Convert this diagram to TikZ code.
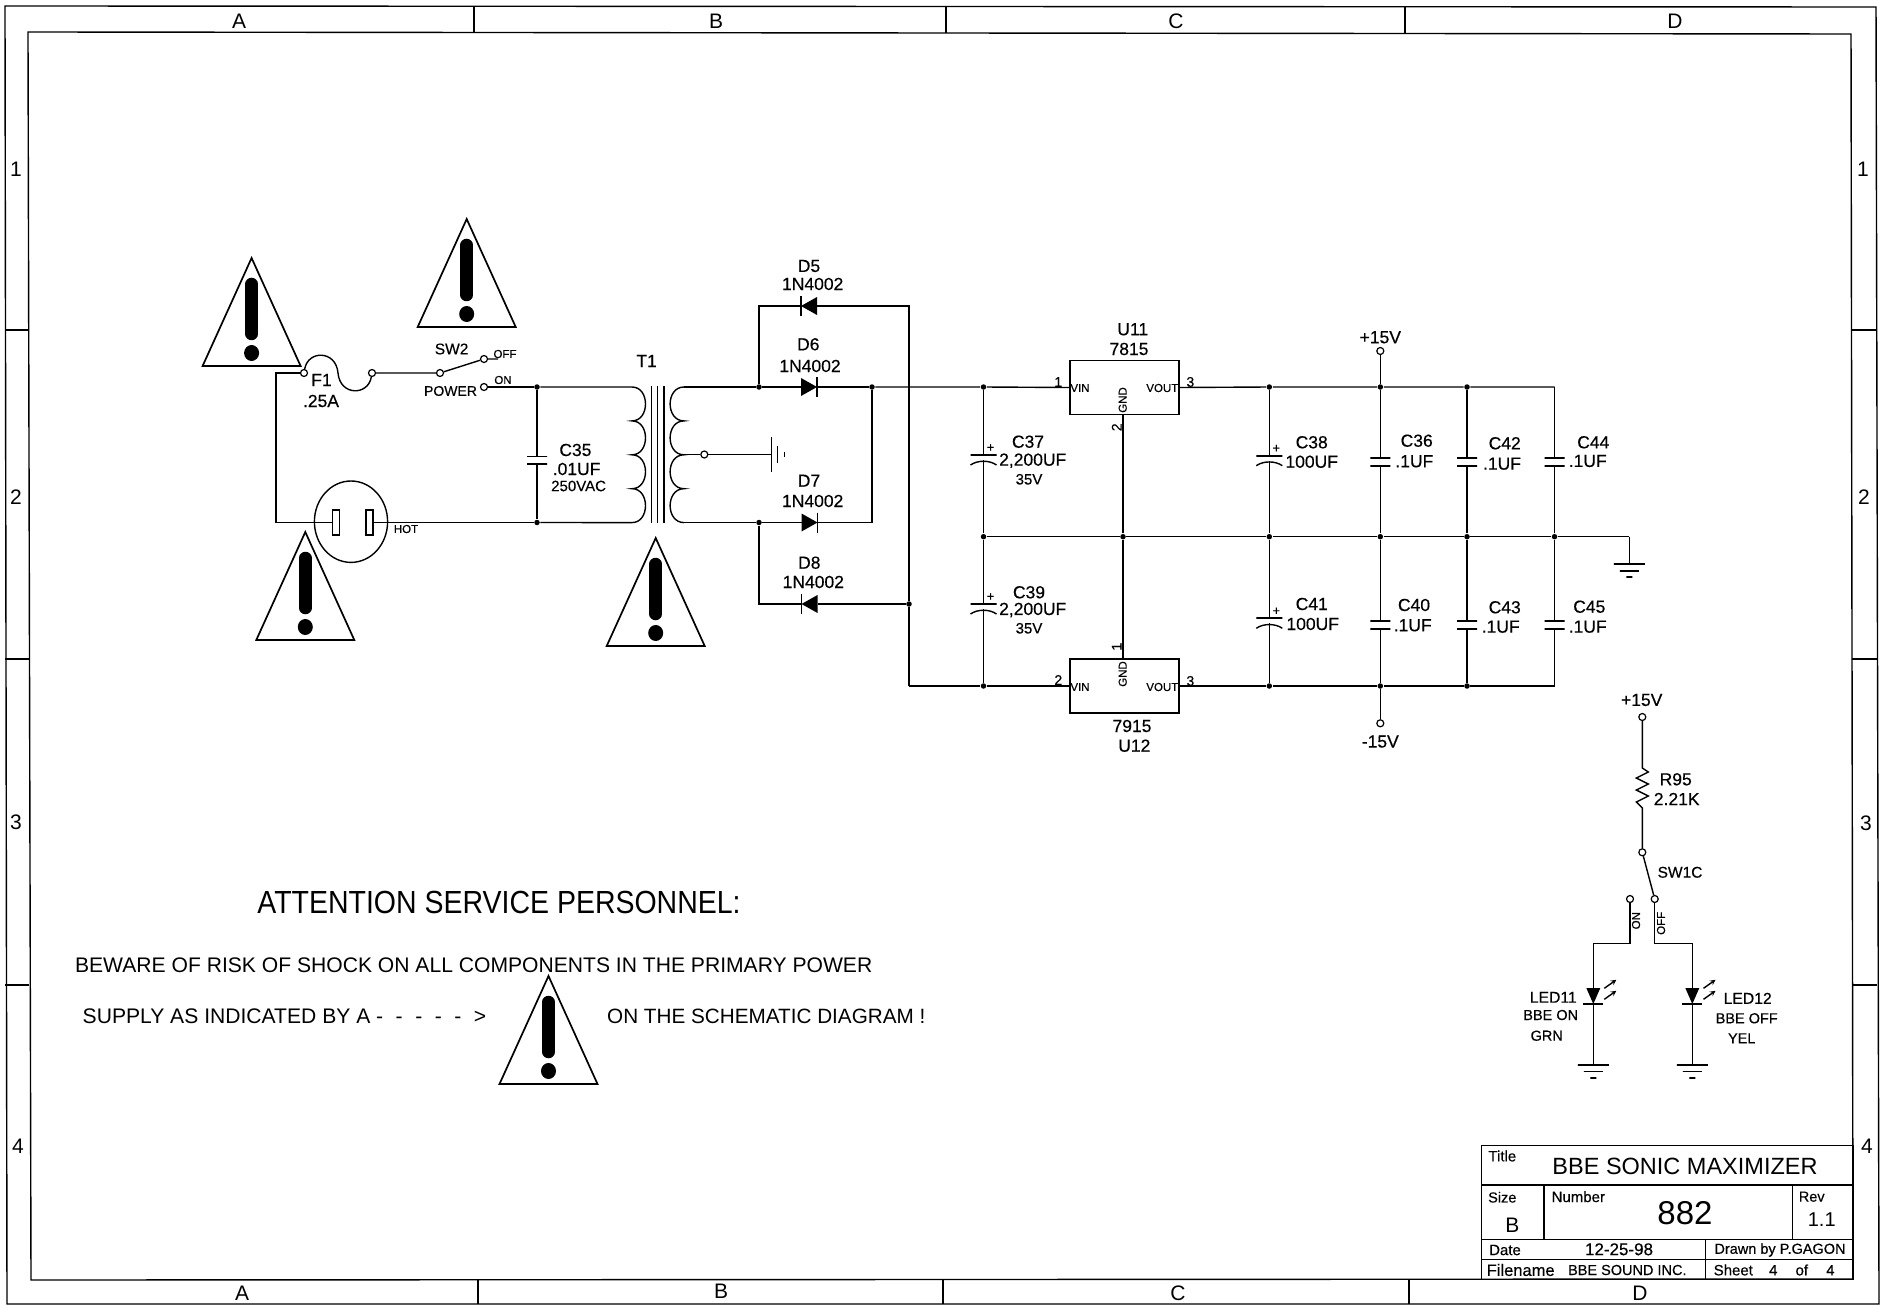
\documentclass[tikz,border=0pt]{standalone}
\usepackage{fontspec}
\setmainfont[FakeBold=0.35]{Liberation Sans}
\newfontfamily\thinfont{Liberation Sans}

\begin{document}
\begin{tikzpicture}[x=1pt,y=-1pt,line width=1.4pt]
        \tikzstyle{every node}=[inner sep=0pt, font=\fontsize{17.5}{18}\selectfont]
        \tikzstyle{dot}=[circle,fill=black,minimum size=5.5pt]
        \tikzstyle{pad}=[circle,draw,fill=white,line width=1.2pt,minimum size=7pt]
        \tikzstyle{plate}=[draw,fill=black,minimum width=20pt,minimum height=0pt,line width=1.8pt]
        \tikzstyle{ic}=[draw,minimum width=109pt,minimum height=54pt]
        \tikzstyle{blade}=[draw,minimum width=7pt,minimum height=25pt]
        \tikzstyle{tiny}=[font=\fontsize{11.5}{12}\selectfont]
        \tikzstyle{pin}=[font=\fontsize{14}{14}\selectfont]
        \tikzstyle{note}=[font=\fontsize{14.5}{15}\selectfont]
        \tikzstyle{edge}=[font=\thinfont\fontsize{21}{21}\selectfont]
        \tikzstyle{para}=[font=\thinfont\fontsize{21.1}{22}\selectfont]
        \tikzstyle{cell}=[font=\fontsize{15}{15}\selectfont]
        \useasboundingbox (0,0) rectangle (1881,1305);

        % sheet border
        \draw (5,6) -- (1876,7) -- (1879,1304) -- (7,1304) -- cycle;
        \draw (28,32) -- (1851,34) -- (1853,1279) -- (31,1280) -- cycle;
        \foreach \x in {474,946,1405} \draw (\x,6) -- (\x,33);
        \foreach \x in {478,943,1409} \draw (\x,1280) -- (\x,1304);
        \foreach \y in {330,659,985} {\draw (5,\y) -- (29,\y); \draw (1852,\y) -- (1877,\y);}
        \node[edge] (ta) at (239,21) {A}; \node[edge] (tb) at (716,21) {B};
        \node[edge] (tc) at (1176,21) {C}; \node[edge] (td) at (1675,21) {D};
        \node[edge] (ba) at (242,1293) {A}; \node[edge] (bb) at (721,1291) {B};
        \node[edge] (bc) at (1178,1293) {C}; \node[edge] (bd) at (1640,1293) {D};
        \node[edge] (l1) at (16,169) {1}; \node[edge] (l2) at (16,497) {2};
        \node[edge] (l3) at (16,822) {3}; \node[edge] (l4) at (18,1146) {4};
        \node[edge] (r1) at (1863,169) {1}; \node[edge] (r2) at (1864,497) {2};
        \node[edge] (r3) at (1866,823) {3}; \node[edge] (r4) at (1867,1146) {4};

        % warning triangles
        \foreach \x/\y in {251.6/258,466.7/219,305.3/532,655.7/538,548.5/976} {
            \draw[line width=1.7pt] (\x,\y) -- ++(-49,108) -- ++(98,0) -- cycle;
            \draw[line width=12.5pt,line cap=round] (\x,\y+26) -- (\x,\y+76);
            \fill (\x,\y+95) ellipse (7.5pt and 8pt);
        }

        % line input, fuse and switch
        \coordinate (lt) at (276,373); \coordinate (lb) at (276,522.5);
        \node[pad] (f1a) at (304,373) {}; \node[pad] (f1b) at (372,373) {};
        \node[pad] (sw2p) at (440,373) {}; \node[pad] (sw2off) at (484,359) {};
        \node[pad] (sw2on) at (484,387) {}; \coordinate (offend) at (498,359);
        \draw (351,521.7) ellipse (36.6pt and 40.7pt);
        \node[blade] (bl) at (335.7,522.5) {}; \node[blade] (br) at (369.4,522.5) {};
        \node[dot] (j35t) at (537,387) {}; \node[dot] (j35b) at (537,522.5) {};
        \node[plate] (c35a) at (537,456.5) {}; \node[plate] (c35b) at (537,464) {};
        \draw (f1a) -- (lt) -- (lb) -- (bl);
        \draw (f1a) .. controls (308,350) and (336,350) .. (338,373) .. controls (340,396) and (368,396) .. (f1b);
        \draw (f1b) -- (sw2p) -- (sw2off) -- (offend);
        \draw (sw2on) -- (j35t) -- (c35a); \draw (c35b) -- (j35b) -- (br);
        \node (sw2) at (451.6,349) {\fontsize{15.5}{16}\selectfont SW2};
        \node (power) at (450.5,391) {\fontsize{14}{14}\selectfont POWER};
        \node[tiny] (off) at (505,354) {OFF}; \node[tiny] (on) at (503,380) {ON};
        \node (f1) at (321.5,380) {F1}; \node (f1v) at (321,401) {.25A};
        \node[tiny] (hot) at (406,529) {HOT};
        \node (c35) at (575.4,450) {C35}; \node (c35v) at (576.6,469) {.01UF};
        \node[cell] (c35r) at (578.6,486) {250VAC};

        % transformer
        \coordinate (t1pa) at (632,387); \coordinate (t1pb) at (632,522.5);
        \coordinate (t1sa) at (684,387); \coordinate (t1sb) at (684,522.5);
        \coordinate (t1c) at (685,454.5);
        \draw (j35t) -- (t1pa) \foreach \i in {1,2,3,4} {.. controls +(18,0) and +(18,0) .. ++(0,33.9)} -- (j35b);
        \draw (t1sa) \foreach \i in {1,2,3,4} {.. controls +(-18.5,0) and +(-18.5,0) .. ++(0,33.9)};
        \foreach \x in {651.3,657.5,664} \draw (\x,386) -- (\x,523);
        \node (t1) at (646.6,361) {T1};
        \node[pad] (t1t) at (704.3,454.5) {}; \coordinate (chas) at (771.7,454.5);
        \draw (t1c) -- (t1t) -- (chas);
        \draw (771.7,437) -- (771.7,472); \draw (777.5,446) -- (777.5,463); \draw (784.3,451.5) -- (784.3,457);

        % diodes
        \foreach \n/\x/\y/\h/\a in {d5/809/306/9/180,d6/809/387/9/0,d7/809.5/522.5/9/0,d8/809.5/604/9/180,led11/1593.3/996/7/-90,led12/1692.3/996/7/-90} {
            \begin{scope}[shift={(\x,\y)},rotate=\a]
                \fill (-8,-\h) -- (8,0) -- (-8,\h) -- cycle;
                \draw (8,-10) -- (8,10);
                \coordinate (\n a) at (-8,0); \coordinate (\n k) at (8,0);
            \end{scope}
        }
        \node (d5n) at (809,266) {D5}; \node (d5v) at (812.7,284) {1N4002};
        \node (d6n) at (808.3,344.3) {D6}; \node (d6v) at (810,366) {1N4002};
        \node (d7n) at (809,480.7) {D7}; \node (d7v) at (812.7,501) {1N4002};
        \node (d8n) at (809.3,562.7) {D8}; \node (d8v) at (813.3,582) {1N4002};

        % rectifier nets
        \node[dot] (j6) at (759,387) {}; \node[dot] (j7) at (759,522.5) {};
        \node[dot] (jr) at (872,387) {}; \coordinate (jrb) at (872,522.5);
        \coordinate (d5l) at (759,306); \coordinate (d5r) at (909,306);
        \coordinate (d8l) at (759,604); \node[dot] (j8) at (909,604) {}; \coordinate (nb) at (909,686);
        \draw (t1sa) -- (j6) -- (d6a); \draw (t1sb) -- (j7) -- (d7a);
        \draw (j6) -- (d5l) -- (d5k); \draw (d5a) -- (d5r) -- (j8) -- (nb);
        \draw (j7) -- (d8l) -- (d8k); \draw (d8a) -- (j8);
        \draw (d6k) -- (jr) -- (jrb) -- (d7k);

        % regulators
        \node[ic] (u11) at (1124.6,387.5) {}; \node[ic] (u12) at (1124.6,686) {};
        \node (u11n) at (1132.7,329.3) {U11}; \node (u11t) at (1129,349) {7815};
        \node (u12t) at (1132,726) {7915}; \node (u12n) at (1134.3,745.7) {U12};
        \node[tiny] (u11i) at (1080,388) {VIN}; \node[tiny] (u11o) at (1162.3,388) {VOUT};
        \node[tiny] (u12i) at (1080,687) {VIN}; \node[tiny] (u12o) at (1162.3,687) {VOUT};
        \node[tiny,rotate=90] (u11g) at (1122.7,400) {GND}; \node[tiny,rotate=90] (u12g) at (1122.7,674) {GND};
        \node[pin] (p1) at (1058.3,382) {1}; \node[pin] (p3) at (1190.3,382) {3};
        \node[pin] (p2) at (1058.3,680) {2}; \node[pin] (p4) at (1190.3,681) {3};
        \node[pin,rotate=90] (p5) at (1116.7,427.3) {2}; \node[pin,rotate=90] (p6) at (1116.7,646.7) {1};

        % rails
        \node[dot] (j37) at (983.5,387) {}; \node[dot] (m37) at (983.5,536.7) {}; \node[dot] (j39) at (983.5,686) {};
        \node[dot] (mg) at (1123,536.7) {};
        \node[dot] (j38) at (1269.3,387) {}; \node[dot] (j36) at (1380.3,387) {}; \node[dot] (j42) at (1467,387) {}; \coordinate (ctr) at (1554.5,387);
        \node[dot] (m38) at (1269.3,536.7) {}; \node[dot] (m36) at (1380.3,536.7) {}; \node[dot] (m42) at (1467,536.7) {}; \node[dot] (m44) at (1554.5,536.7) {};
        \node[dot] (j41) at (1269.3,686) {}; \node[dot] (j40) at (1380.3,686) {}; \node[dot] (j43) at (1467,686) {}; \coordinate (cbr) at (1554.5,686);
        \coordinate (gr) at (1629.3,536.7);
        \node[pad] (vp) at (1380.3,351) {}; \node[pad] (vm) at (1380.3,723.3) {};
        \draw (jr) -- (j37) -- (u11.west); \draw (u11.east) -- (j38) -- (j36) -- (j42) -- (ctr);
        \draw (nb) -- (j39) -- (u12.west); \draw (u12.east) -- (j41) -- (j40) -- (j43) -- (cbr);
        \draw (m37) -- (mg) -- (m38) -- (m36) -- (m42) -- (m44) -- (gr);
        \draw (u11.south -| mg) -- (mg) -- (u12.north -| mg);
        \draw (vp) -- (j36); \draw (j40) -- (vm);
        \node (vpl) at (1380.3,337.3) {+15V}; \node (vml) at (1380.3,741.6) {-15V};

        % polarised capacitors
        \foreach \n/\x/\y/\t/\m/\b in {c37/983.5/455/j37/m37/plus37,c39/983.5/604/m37/j39/plus39,c38/1269.3/455.7/j38/m38/plus38,c41/1269.3/618.3/m38/j41/plus41} {
            \node[plate,minimum width=26pt] (\n a) at (\x,\y) {};
            \coordinate (\n b) at (\x,\y+5);
            \draw (\x-13,\y+10) .. controls (\x-6,\y+5) and (\x+6,\y+5) .. (\x+13,\y+10);
            \node (\b) at (\x+7,\y-7) {\fontsize{13}{13}\selectfont +};
            \draw (\t) -- (\n a); \draw (\n b) -- (\m);
        }
        % plain capacitors
        \foreach \n/\x/\y/\t/\m in {c36/1380.3/457.7/j36/m36,c42/1467/457.7/j42/m42,c44/1554.5/457.7/ctr/m44,c40/1380.3/621/m36/j40,c43/1467/621/m42/j43,c45/1554.5/621/m44/cbr} {
            \node[plate] (\n a) at (\x,\y) {}; \node[plate] (\n b) at (\x,\y+8) {};
            \draw (\t) -- (\n a); \draw (\n b) -- (\m);
        }
        \node (c37n) at (1028,441.7) {C37}; \node (c37v) at (1032.7,460.7) {2,200UF}; \node[cell] (c37r) at (1029,479.3) {35V};
        \node (c39n) at (1029,592.3) {C39}; \node (c39v) at (1032.7,610) {2,200UF}; \node[cell] (c39r) at (1029,628.3) {35V};
        \node (c38n) at (1311.7,442.3) {C38}; \node (c38v) at (1311.7,461.7) {100UF};
        \node (c41n) at (1311.7,604) {C41}; \node (c41v) at (1312.7,624) {100UF};
        \node (c36n) at (1416.7,440.7) {C36}; \node (c36v) at (1414.3,461.3) {.1UF};
        \node (c42n) at (1504.7,443.3) {C42}; \node (c42v) at (1502,463.7) {.1UF};
        \node (c44n) at (1593.3,442.3) {C44}; \node (c44v) at (1587.7,461) {.1UF};
        \node (c40n) at (1414,605) {C40}; \node (c40v) at (1412.7,625.3) {.1UF};
        \node (c43n) at (1504.7,607.3) {C43}; \node (c43v) at (1500.7,626.7) {.1UF};
        \node (c45n) at (1589.3,606.7) {C45}; \node (c45v) at (1587.7,626.7) {.1UF};

        % grounds
        \foreach \n/\x/\y in {g1/1629.3/564,g2/1593.3/1064.7,g3/1692.3/1064.7} {
            \node[plate,minimum width=31pt] (\n) at (\x,\y) {};
            \node[plate,minimum width=19pt] (\n b) at (\x,\y+6.7) {};
            \node[plate,minimum width=6pt] (\n c) at (\x,\y+13.3) {};
        }
        \draw (gr) -- (g1);

        % led branch
        \node[pad] (vq) at (1642.3,717) {}; \node (vql) at (1641.7,700) {+15V};
        \coordinate (r95a) at (1642.3,768); \coordinate (r95b) at (1642.3,808);
        \node[pad] (sw1p) at (1642.3,852.3) {}; \node[pad] (sw1on) at (1630,899) {}; \node[pad] (sw1off) at (1654.7,899) {};
        \coordinate (on1) at (1630,943.3); \coordinate (on2) at (1593.3,943.3);
        \coordinate (off1) at (1654.7,943.3); \coordinate (off2) at (1692.3,943.3);
        \draw (vq) -- (r95a) -- ++(6,4) -- ++(-12,6) -- ++(12,6) -- ++(-12,6) -- ++(12,6) -- ++(-12,6) -- (r95b) -- (sw1p) -- (sw1off);
        \draw (sw1on) -- (on1) -- (on2) -- (led11a); \draw (led11k) -- (g2);
        \draw (sw1off) -- (off1) -- (off2) -- (led12a); \draw (led12k) -- (g3);
        \draw[-stealth] (1604.3,988.3) -- ++(12,-8.5); \draw[-stealth] (1604.3,999.3) -- ++(12,-8.5);
        \draw[-stealth] (1703.5,988.3) -- ++(12,-8.5); \draw[-stealth] (1703.5,999.3) -- ++(12,-8.5);
        \node (r95) at (1675.7,779.3) {R95}; \node (r95v) at (1676.7,799) {2.21K};
        \node[font=\fontsize{15.5}{16}\selectfont] (sw1c) at (1680,872.3) {SW1C};
        \node[tiny,rotate=90] (onl) at (1636,920.7) {ON}; \node[tiny,rotate=90] (offl) at (1661,923.3) {OFF};
        \node[font=\fontsize{15.7}{16}\selectfont] (led11l) at (1553.3,997.3) {LED11};
        \node[note] (led11t) at (1550.7,1015) {BBE ON}; \node[note] (led11c) at (1546.7,1035.7) {GRN};
        \node[font=\fontsize{15.7}{16}\selectfont] (led12l) at (1747.7,998.3) {LED12};
        \node[note] (led12t) at (1746.7,1018.3) {BBE OFF}; \node[note] (led12c) at (1741.7,1038.3) {YEL};

        % service note
        \node[font=\thinfont\fontsize{32}{32}\selectfont,transform shape,xscale=.89] (head) at (499,902) {ATTENTION SERVICE PERSONNEL:};
        \node[para,anchor=west] (ln1) at (74.4,965) {BEWARE OF RISK OF SHOCK ON ALL COMPONENTS IN THE PRIMARY POWER};
        \node[para,anchor=west] (ln2) at (82,1016.7) {SUPPLY AS INDICATED BY A -\hspace{12.5pt}-\hspace{12.5pt}-\hspace{12.5pt}-\hspace{12.5pt}-\hspace{12.5pt}>};
        \node[para,anchor=west,font=\thinfont\fontsize{20.7}{22}\selectfont] (ln3) at (606.5,1016) {ON THE SCHEMATIC DIAGRAM !};

        % title block
        \draw (1481.7,1145.7) -- (1853,1145.7) -- (1853,1279.3) -- (1481.7,1279.3) -- cycle;
        \draw (1481.7,1185) -- (1853,1185); \draw (1481.7,1239.3) -- (1853,1239.3); \draw (1481.7,1259.3) -- (1853,1259.3);
        \draw (1544,1185) -- (1544,1239.3); \draw (1792.7,1185) -- (1792.7,1239.3); \draw (1705.7,1239.3) -- (1705.7,1279.3);
        \node[cell] (ttl) at (1502.3,1156) {Title};
        \node[font=\thinfont\fontsize{23.5}{24}\selectfont] (ttlv) at (1685,1166) {BBE SONIC MAXIMIZER};
        \node[note] (tsz) at (1502.3,1197.3) {Size}; \node[font=\thinfont\fontsize{21}{21}\selectfont] (tszv) at (1512.3,1225.7) {B};
        \node[cell] (tnum) at (1578.3,1196.7) {Number}; \node[font=\thinfont\fontsize{33}{33}\selectfont] (tnumv) at (1685,1212.7) {882};
        \node[note] (trev) at (1811.7,1196.7) {Rev}; \node[font=\thinfont\fontsize{20}{20}\selectfont] (trevv) at (1821.7,1220) {1.1};
        \node[cell] (tdat) at (1505,1250) {Date}; \node[font=\fontsize{17}{17}\selectfont] (tdatv) at (1619,1249.3) {12-25-98};
        \node[note] (tdrw) at (1780,1250) {Drawn by P.GAGON};
        \node[font=\fontsize{16.5}{17}\selectfont] (tfil) at (1520.7,1270) {Filename}; \node[note] (tfilv) at (1627.3,1270) {BBE SOUND INC.};
        \node[cell,anchor=west] (tsht) at (1713,1270) {Sheet\hspace{12pt} 4\hspace{14pt} of\hspace{14pt} 4};
    \end{tikzpicture}
\end{document}
